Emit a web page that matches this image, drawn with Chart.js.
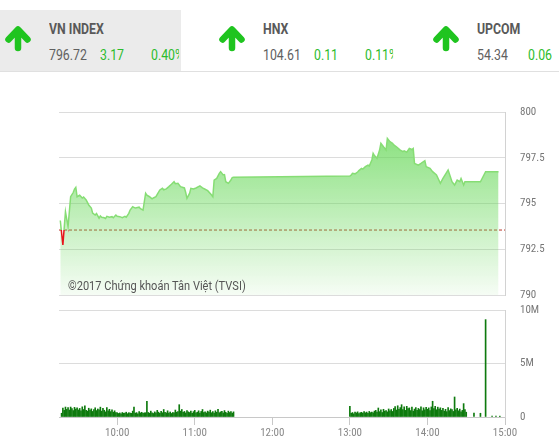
<!DOCTYPE html>
<html>
<head>
<meta charset="utf-8">
<script src="https://cdn.jsdelivr.net/npm/chart.js@4/dist/chart.umd.min.js"></script>
<style>
  html, body { margin: 0; padding: 0; background: #fff; }
  body { width: 559px; height: 445px; position: relative; overflow: hidden; font-family: Roboto, "Liberation Sans", sans-serif; }
  #rule { position: absolute; left: 0; top: 71px; width: 559px; height: 1px; background: #e0e0e0; }
  .grp { position: absolute; top: 10px; width: 181px; height: 61px; overflow: hidden; }
  .grp.sel { background: #ebebeb; }
  .grp svg { position: absolute; left: 0; top: 0; }
  .txt { position: absolute; white-space: nowrap; transform: scaleX(0.88); transform-origin: 0 0; line-height: 14px; font-size: 14px; }
  .name { left: 49px; top: 11.5px; font-weight: bold; color: #595959; }
  .val { left: 49px; top: 38px; color: #606060; }
  .chg { left: 100px; top: 38px; color: #2cbc2c; }
  .pct { left: 151px; top: 38px; color: #2cbc2c; width: 32px; overflow: hidden; }
  canvas { position: absolute; left: 0; }
  #priceChart { top: 100px; }
  #volChart { top: 300px; }
  #copy { position: absolute; left: 68px; top: 279px; font-size: 13px; line-height: 13px; color: #555; white-space: nowrap; transform: scaleX(0.85); transform-origin: 0 0; }
</style>
</head>
<body>
<div id="rule"></div>
<div id="quotes"></div>
<canvas id="priceChart" width="559" height="205"></canvas>
<canvas id="volChart" width="559" height="145"></canvas>
<div id="copy">©2017 Chứng khoán Tân Việt (TVSI)</div>
<script>
// Index quotes shown in the header strip
const indexNames = ['VN INDEX', 'HNX', 'UPCOM'];
const indexValues = ['796.72', '104.61', '54.34'];
const indexChanges = ['3.17', '0.11', '0.06'];
const indexPercents = ['0.40%', '0.11%', '0.11%'];

// VN-Index intraday (time, level)
const referencePrice = 793.55;
const priceTimes = [
  '9:16','9:18','9:20','9:22','9:24','9:26','9:27','9:28','9:29','9:31','9:33','9:34','9:36','9:38','9:40','9:41','9:43','9:44','9:46','9:47','9:48','9:50','9:51','9:52','9:54','9:56','9:57','9:59',
  '10:00','10:02','10:04','10:06','10:07','10:09','10:10','10:12','10:14','10:17','10:18','10:20','10:22','10:23','10:25','10:27','10:28','10:30','10:31','10:33','10:35','10:36','10:38','10:40','10:42','10:44','10:45','10:47','10:49','10:52','10:53','10:54','10:56','10:57','10:59',
  '11:01','11:04','11:06','11:08','11:10','11:12','11:13','11:14','11:15','11:17','11:19','11:20','11:22','11:23','11:24','11:26','11:28','11:29','11:30',
  '13:00','13:01','13:02','13:04','13:06','13:07','13:09','13:10','13:12','13:14','13:15','13:17','13:18','13:19','13:21','13:23','13:24','13:26','13:28','13:29','13:31','13:33','13:34','13:36','13:39','13:41','13:42','13:44','13:46','13:48','13:49','13:50','13:53','13:55','13:58','13:59',
  '14:02','14:04','14:07','14:10','14:12','14:16','14:19','14:21','14:23','14:25','14:26','14:28','14:29','14:30','14:41','14:45','14:55'
];
const prices = [
  794.07,792.73,794.55,793.73,795.37,795.60,795.79,795.88,795.37,795.45,795.30,795.35,795.19,794.92,794.75,794.48,794.37,794.45,794.20,794.32,794.25,794.22,794.18,794.30,794.25,794.28,794.22,794.37,
  794.30,794.28,794.22,794.30,794.25,794.46,794.64,794.82,794.75,794.80,794.72,794.64,795.56,795.45,795.37,795.25,795.30,795.37,795.50,795.74,795.83,795.75,795.80,795.92,796.05,796.19,796.08,796.10,795.92,795.85,795.60,795.28,795.55,795.83,795.80,
  795.85,795.96,795.85,795.78,795.70,795.55,795.46,795.37,796.28,796.37,796.65,796.74,796.56,796.58,796.19,796.10,796.28,796.42,796.44,
  796.50,796.55,796.65,796.62,796.72,796.80,796.92,796.88,797.01,797.10,797.05,797.38,797.74,797.62,797.47,797.92,798.29,798.10,797.92,798.56,798.38,798.29,798.20,798.10,797.92,797.83,797.88,797.80,798.01,797.95,798.01,797.19,797.10,797.19,797.34,797.01,
  796.92,796.74,796.56,796.10,796.37,796.83,796.19,796.01,796.28,796.19,796.37,796.01,796.19,796.19,796.19,796.74,796.74
];

// Matched volume per minute, millions of shares
const morningStart = '9:17';
const morningVolumes = [
  0.35,0.84,0.62,0.93,0.71,0.88,0.65,0.93,0.78,0.60,0.90,0.74,0.85,
  0.66,0.80,0.58,0.95,0.70,1.05,0.62,0.55,0.82,0.64,0.76,0.52,0.70,0.86,0.60,
  0.75,0.68,0.92,0.55,0.80,0.63,0.48,0.88,0.57,0.72,0.50,0.66,0.45,0.58,0.42,
  0.40,0.33,0.38,0.30,0.42,0.35,0.36,0.45,0.31,0.40,0.37,0.34,0.55,0.92,0.36,0.41,0.30,0.50,0.38,0.44,0.35,0.39,0.40,
  1.47,
  0.42,0.36,0.55,0.40,0.33,0.48,0.38,0.62,0.45,0.35,0.52,0.40,0.70,0.44,0.38,0.58,0.36,0.47,0.33,0.42,0.39,0.65,0.45,
  0.50,1.15,
  0.55,0.70,0.44,0.52,0.38,0.60,0.48,0.42,0.56,0.35,0.50,0.62,0.40,0.45,0.58,0.36,0.52,0.70,0.42,0.48,0.38,0.55,0.46,0.64,0.40,0.50,0.36,0.58,0.44,0.72,0.40,0.48,0.52,0.38,0.60,0.44,0.35,0.55,0.42,0.50,0.36,0.48
];
const afternoonStart = '13:00';
const afternoonVolumes = [
  1.00,0.35,0.42,0.30,0.45,0.38,0.48,0.33,0.40,0.44,
  0.36,0.50,0.39,0.46,0.34,0.52,0.41,0.47,0.38,0.55,
  0.62,0.45,0.84,0.50,0.66,0.42,0.72,0.55,0.60,0.48,
  0.75,0.58,0.70,0.52,0.80,0.98,0.65,1.05,0.72,0.88,
  1.15,0.70,0.95,0.62,1.00,0.78,0.85,0.60,0.92,0.55,
  0.74,0.88,0.62,0.80,0.70,0.95,0.58,0.86,0.66,0.90,
  0.72,0.85,0.60,0.94,1.47,0.78,1.00,0.68,0.92,0.75,
  0.86,0.62,0.80,0.55,0.72,0.50,0.88,0.60,0.76,0.70,
  0.52,1.87,0.66,0.80,0.58,0.74,0.48,0.62,1.25,0.70,
  0.45
];
const closingTimes = ['14:36','14:41','14:45','14:50','14:53','14:56'];
const closingVolumes = [0.37,0.35,9.10,0.08,0.08,0.08];

// Axis ticks
const priceTicks = [790, 792.5, 795, 797.5, 800];
const volumeTicks = [0, 5, 10];
const timeTicks = ['10:00','11:00','12:00','13:00','14:00','15:00'];
const sessionOpen = '9:15';
const sessionEnd = '15:00';

const toMin = s => { const [h, m] = s.split(':').map(Number); return h * 60 + m; };
const fmtTime = v => { const h = Math.floor(v / 60), m = Math.round(v % 60); return (h < 10 ? '0' + h : h) + ':' + (m < 10 ? '0' + m : m); };

// Header strip
const quotes = document.getElementById('quotes');
indexNames.forEach((n, i) => {
  const g = document.createElement('div');
  g.className = 'grp' + (i === 0 ? ' sel' : '');
  g.style.left = (i * 214) + 'px';
  g.innerHTML =
    '<svg width="40" height="50"><path d="M8.5 29.5 L18 19.5 L27.5 29.5 M18 20 L18 38" fill="none" stroke="#1fc41f" stroke-width="6.5" stroke-linecap="round" stroke-linejoin="round"/></svg>' +
    '<div class="txt name">' + n + '</div>' +
    '<div class="txt val">' + indexValues[i] + '</div>' +
    '<div class="txt chg">' + indexChanges[i] + '</div>' +
    '<div class="txt pct">' + indexPercents[i] + '</div>';
  quotes.appendChild(g);
});

const axisFont = { family: "'Roboto Condensed','Liberation Sans Narrow','Arial Narrow',Roboto,sans-serif", size: 11 };
const gridColor = '#dcdcdc';
const edgeColor = '#d2d2d2';

// Price line: green above the reference level, red below
function strokeStyle(ctx) {
  const chart = ctx.chart, area = chart.chartArea;
  if (!area) return '#86dd74';
  const yRef = chart.scales.y.getPixelForValue(referencePrice);
  const f = Math.min(Math.max((yRef - area.top) / (area.bottom - area.top), 0), 1);
  const g = chart.ctx.createLinearGradient(0, area.top, 0, area.bottom);
  g.addColorStop(0, '#86dd74');
  g.addColorStop(f, '#86dd74');
  g.addColorStop(f, '#e8141b');
  g.addColorStop(1, '#e8141b');
  return g;
}
function fillStyle(ctx) {
  const chart = ctx.chart, area = chart.chartArea;
  if (!area) return 'rgba(100,215,85,0.4)';
  const g = chart.ctx.createLinearGradient(0, area.top, 0, area.bottom);
  g.addColorStop(0, 'rgba(100,215,85,0.85)');
  g.addColorStop(1, 'rgba(100,215,85,0.06)');
  return g;
}

// Right-hand value axis: labels sit 15px right of the plot edge
const rightAxis = (min, max, values, fmt) => ({
  position: 'right', min, max,
  afterBuildTicks: s => { s.ticks = values.map(v => ({ value: v })); },
  afterFit: s => { s.width = 54; },
  grid: { color: gridColor, drawTicks: true, tickLength: 15, tickColor: 'rgba(0,0,0,0)' },
  border: { display: true, color: edgeColor },
  ticks: { padding: 0, color: '#777', font: axisFont, callback: fmt }
});

new Chart(document.getElementById('priceChart'), {
  type: 'line',
  data: {
    datasets: [
      {
        data: priceTimes.map((t, i) => ({ x: toMin(t), y: prices[i] })),
        borderColor: strokeStyle,
        backgroundColor: fillStyle,
        borderWidth: 1.5,
        pointRadius: 0,
        tension: 0,
        fill: 'start'
      },
      {
        data: [{ x: toMin(sessionOpen), y: referencePrice }, { x: toMin(sessionEnd), y: referencePrice }],
        borderColor: '#b8352a',
        borderWidth: 1,
        borderDash: [3, 2],
        pointRadius: 0,
        fill: false
      }
    ]
  },
  options: {
    responsive: false,
    animation: false,
    devicePixelRatio: 1,
    layout: { padding: { left: 59, top: 12, bottom: 10, right: 0 } },
    plugins: { legend: { display: false }, tooltip: { enabled: false } },
    scales: {
      x: { type: 'linear', min: toMin(sessionOpen), max: toMin(sessionEnd), display: false },
      y: rightAxis(790, 800, priceTicks, v => String(v))
    }
  }
});

const volumePoints = []
  .concat(morningVolumes.map((v, i) => ({ x: toMin(morningStart) + i, y: v })))
  .concat(afternoonVolumes.map((v, i) => ({ x: toMin(afternoonStart) + i, y: v })))
  .concat(closingTimes.map((t, i) => ({ x: toMin(t), y: closingVolumes[i] })));

new Chart(document.getElementById('volChart'), {
  type: 'bar',
  data: {
    datasets: [{
      data: volumePoints,
      backgroundColor: '#0e7a0e',
      barThickness: 1,
      borderWidth: 0
    }]
  },
  options: {
    responsive: false,
    animation: false,
    devicePixelRatio: 1,
    layout: { padding: { left: 59, top: 10, bottom: 0, right: 0 } },
    plugins: { legend: { display: false }, tooltip: { enabled: false } },
    scales: {
      x: {
        type: 'linear', min: toMin(sessionOpen), max: toMin(sessionEnd), offset: false,
        afterBuildTicks: s => { s.ticks = timeTicks.map(t => ({ value: toMin(t) })); },
        afterFit: s => { s.height = 28; },
        grid: { drawOnChartArea: false, drawTicks: true, tickLength: 8, color: '#c8c8c8', offset: false },
        border: { display: true, color: '#c8c8c8' },
        ticks: { padding: 2, color: '#888', font: axisFont, maxRotation: 0, autoSkip: false, callback: v => fmtTime(v) }
      },
      y: rightAxis(0, 10, volumeTicks, v => v === 0 ? '0' : v + 'M')
    }
  }
});
</script>
</body>
</html>
